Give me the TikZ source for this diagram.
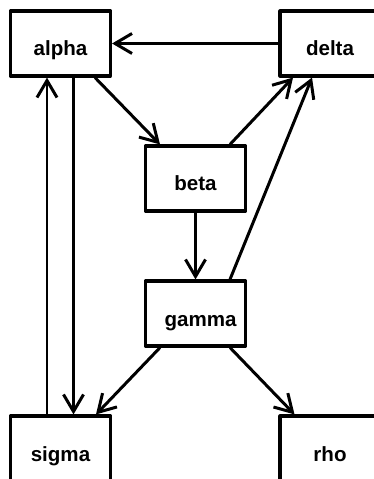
\documentclass[tikz,border=0pt]{standalone}
\usepackage{fontspec}
\setmainfont{Liberation Sans}
\usetikzlibrary{arrows.meta}

\begin{document}
\begin{tikzpicture}[x=0.02cm, y=-0.02cm,
		box/.style={draw, line width=1.8pt, line join=round, minimum width=2cm, minimum height=1.3cm,
			inner sep=0pt, text height=0.5cm, text depth=0cm, font=\fontsize{11.7}{14}\selectfont\bfseries},
		edge/.style={line width=1.7pt, -{Straight Barb[length=0.34cm, width=0.4cm, line join=miter]}}]
			\useasboundingbox (0,0) rectangle (374,479);
			\clip (0,0) rectangle (374,479);

			% boxes
			\node[box] (alpha) at (60.5, 43.5) {alpha};
			\node[box] (delta) at (330, 43.5) {delta};
			\node[box] (beta) at (195.5, 178.5) {beta};
			\node[box] (gamma) at (195.5, 313.5) {\hspace*{0.2cm}gamma};
			\node[box] (sigma) at (60.5, 448.5) {sigma};
			\node[box] (rho) at (330, 448.5) {rho};

			% top row
			\draw[edge] (delta.west) -- (alpha.east);
			\draw[edge] ([xshift=0.69cm]alpha.south) -- ([xshift=-0.71cm]beta.north);
			\draw[edge] ([xshift=0.69cm]beta.north) -- ([xshift=-0.74cm]delta.south);
			\draw[edge] ([xshift=0.69cm]gamma.north) -- ([xshift=-0.36cm]delta.south);
			\draw[edge] (beta.south) -- (gamma.north);

			% left column
			\draw[edge] ([xshift=-0.27cm]sigma.north) -- ([xshift=-0.27cm]alpha.south);
			\draw[edge] ([xshift=0.26cm]alpha.south) -- ([xshift=0.26cm]sigma.north);

			% bottom row
			\draw[edge] ([xshift=-0.71cm]gamma.south) -- ([xshift=0.71cm]sigma.north);
			\draw[edge] ([xshift=0.69cm]gamma.south) -- ([xshift=-0.71cm]rho.north);
		\end{tikzpicture}
\end{document}
